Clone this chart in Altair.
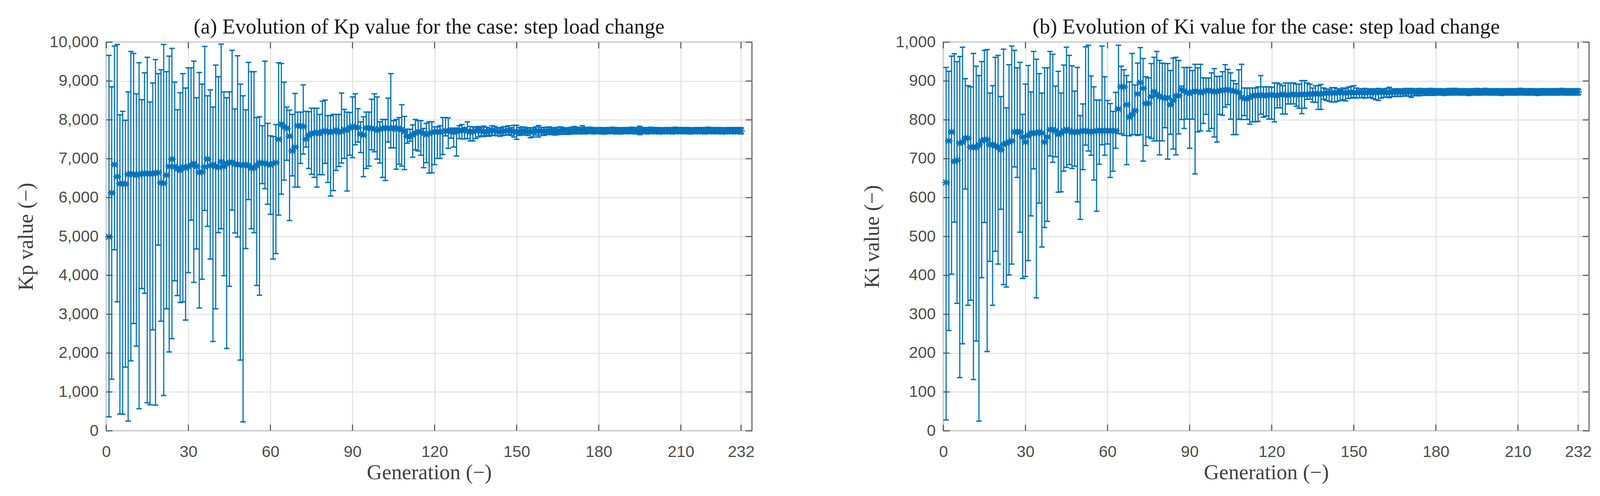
import altair as alt
import pandas as pd

generation = list(range(1, 233))

kp_mean = [
    4990, 6120, 6850, 6540, 6360, 6360, 6350, 6600, 6610, 6600,
    6580, 6600, 6610, 6620, 6620, 6610, 6620, 6630, 6640, 6380,
    6370, 6580, 6800, 6990, 6800, 6750, 6700, 6790, 6760, 6800,
    6830, 6880, 6800, 6650, 6660, 6790, 6990, 6820, 6850, 6800,
    6780, 6920, 6800, 6880, 6900, 6910, 6860, 6850, 6850, 6830,
    6850, 6830, 6760, 6760, 6830, 6900, 6880, 6890, 6860, 6840,
    6880, 6900, 7500, 7890, 7820, 7780, 7580, 7200, 7300, 7850,
    7840, 7830, 7500, 7600, 7650, 7660, 7680, 7650, 7700, 7720,
    7700, 7680, 7700, 7740, 7680, 7700, 7750, 7730, 7800, 7830,
    7810, 7800, 7640, 7610, 7790, 7800, 7780, 7770, 7730, 7760,
    7780, 7790, 7790, 7770, 7800, 7760, 7790, 7750, 7700, 7580,
    7560, 7620, 7660, 7700, 7690, 7650, 7620, 7650, 7680, 7690,
    7700, 7680, 7700, 7720, 7710, 7700, 7680, 7700, 7720, 7730,
    7730, 7710, 7690, 7700, 7720, 7740, 7710, 7700, 7690, 7710,
    7730, 7720, 7700, 7690, 7710, 7720, 7730, 7710, 7700, 7680,
    7700, 7720, 7710, 7700, 7690, 7700, 7710, 7720, 7710, 7700,
    7710, 7720, 7710, 7700, 7710, 7720, 7720, 7710, 7710, 7720,
    7730, 7720, 7720, 7730, 7720, 7720, 7730, 7720, 7720, 7720,
    7720, 7710, 7720, 7720, 7730, 7720, 7720, 7710, 7720, 7720,
    7720, 7730, 7720, 7720, 7710, 7720, 7720, 7720, 7730, 7720,
    7720, 7720, 7710, 7720, 7720, 7720, 7720, 7730, 7720, 7720,
    7720, 7720, 7720, 7710, 7720, 7720, 7720, 7720, 7720, 7730,
    7720, 7720, 7720, 7720, 7720, 7710, 7720, 7720, 7720, 7720,
    7720, 7720,
]

kp_upper = [
    9660, 8850, 9900, 9940, 8130, 8220, 7990, 8720, 9760, 9710,
    8670, 9470, 8520, 9210, 9610, 8460, 8950, 9550, 9190, 9290,
    9940, 9240, 9640, 9840, 8970, 8260, 8700, 9190, 8820, 9340,
    9340, 9510, 8570, 9220, 8920, 9890, 8620, 8770, 8330, 9410,
    9110, 9950, 8720, 8570, 8720, 9790, 8280, 9650, 8920, 8620,
    8260, 9480, 9240, 9240, 8060, 8080, 7850, 9510, 7910, 7590,
    7570, 7880, 9470, 9450, 8970, 8330, 8250, 8140, 8680, 8200,
    8200, 8900, 8220, 8210, 8300, 8300, 8300, 8140, 8480, 8510,
    8110, 8110, 8140, 8140, 8140, 8690, 8270, 8200, 8190, 8590,
    8670, 8290, 7950, 8080, 8200, 8200, 8530, 8670, 8590, 7950,
    8010, 8010, 8560, 9190, 7980, 8010, 8060, 8390, 8090, 7760,
    7760, 7870, 8010, 7980, 7980, 7780, 7910, 7950, 7950, 7820,
    7820, 7850, 8060, 8060, 8050, 7790, 7760, 7790, 7850, 7880,
    7800, 7950, 7830, 7820, 7810, 7830, 7800, 7840, 7810, 7790,
    7850, 7830, 7800, 7790, 7820, 7830, 7850, 7800, 7860, 7860,
    7800, 7820, 7810, 7790, 7800, 7790, 7820, 7855, 7810, 7800,
    7810, 7820, 7800, 7790, 7810, 7820, 7800, 7790, 7800, 7810,
    7830, 7810, 7800, 7850, 7810, 7800, 7810, 7800, 7790, 7800,
    7800, 7790, 7800, 7800, 7810, 7800, 7800, 7790, 7800, 7800,
    7800, 7810, 7800, 7800, 7835, 7800, 7800, 7800, 7810, 7800,
    7800, 7800, 7790, 7800, 7800, 7800, 7800, 7810, 7800, 7800,
    7800, 7800, 7800, 7790, 7800, 7800, 7800, 7800, 7800, 7810,
    7800, 7800, 7800, 7800, 7800, 7790, 7800, 7800, 7800, 7800,
    7800, 7800,
]

kp_lower = [
    360, 1330, 4660, 3320, 430, 430, 1640, 250, 1800, 2760,
    2180, 570, 3660, 3540, 720, 670, 2600, 660, 4780, 2820,
    910, 3140, 2030, 2370, 3860, 3480, 3300, 3320, 2850, 4070,
    5420, 3820, 4680, 3160, 3900, 5670, 5260, 4420, 2300, 3140,
    5100, 5200, 3990, 2120, 3720, 5680, 5090, 4990, 1820, 230,
    4690, 5950, 5200, 5100, 3740, 3490, 6360, 6230, 5830, 5570,
    4420, 4560, 5550, 6090, 6450, 6960, 5410, 6560, 6270, 6270,
    6880, 7120, 7300, 6750, 6600, 6520, 6270, 6590, 6590, 6880,
    6390, 6040, 6180, 6700, 6800, 6890, 7010, 6170, 7090, 7030,
    7360, 7430, 7160, 6540, 6750, 6810, 7230, 7180, 6990, 6890,
    6520, 6440, 7430, 7280, 7280, 6730, 6860, 6810, 6720, 7400,
    7450, 7040, 7230, 7200, 7090, 6770, 6900, 6630, 6640, 6850,
    7010, 7010, 7110, 7590, 7270, 7530, 7300, 7070, 7520, 7510,
    7510, 7520, 7460, 7460, 7520, 7560, 7590, 7570, 7600, 7580,
    7610, 7600, 7590, 7580, 7600, 7610, 7620, 7600, 7560, 7500,
    7600, 7630, 7610, 7600, 7540, 7560, 7610, 7560, 7610, 7600,
    7620, 7630, 7620, 7610, 7620, 7630, 7630, 7630, 7630, 7640,
    7640, 7640, 7650, 7640, 7640, 7650, 7650, 7640, 7650, 7650,
    7640, 7640, 7650, 7650, 7650, 7640, 7650, 7640, 7650, 7650,
    7650, 7650, 7640, 7650, 7620, 7650, 7650, 7640, 7650, 7650,
    7650, 7640, 7650, 7650, 7650, 7650, 7640, 7650, 7650, 7650,
    7650, 7650, 7640, 7650, 7650, 7650, 7650, 7650, 7640, 7650,
    7650, 7650, 7650, 7650, 7640, 7650, 7650, 7650, 7650, 7650,
    7650, 7640,
]

ki_mean = [
    639, 746, 769, 693, 696, 740, 743, 753, 753, 730,
    730, 729, 736, 746, 749, 749, 736, 736, 733, 730,
    723, 737, 740, 743, 746, 769, 769, 769, 756, 743,
    759, 766, 766, 766, 769, 766, 743, 756, 775, 775,
    772, 763, 766, 772, 775, 772, 768, 770, 768, 770,
    772, 772, 770, 770, 770, 772, 772, 772, 772, 772,
    772, 772, 772, 828, 885, 885, 839, 807, 814, 824,
    867, 896, 881, 842, 843, 860, 873, 865, 860, 858,
    855, 857, 839, 850, 862, 862, 878, 875, 870, 868,
    872, 874, 873, 870, 872, 875, 876, 874, 872, 873,
    875, 876, 877, 878, 876, 874, 873, 870, 858, 855,
    854, 858, 862, 863, 862, 864, 863, 862, 864, 865,
    863, 862, 864, 866, 864, 863, 865, 866, 864, 865,
    866, 865, 866, 867, 866, 868, 867, 866, 868, 869,
    869, 870, 869, 870, 871, 870, 869, 870, 871, 870,
    870, 871, 870, 870, 871, 870, 871, 870, 871, 871,
    871, 870, 871, 871, 871, 872, 871, 871, 872, 871,
    872, 872, 871, 872, 872, 872, 872, 872, 872, 872,
    872, 872, 871, 872, 872, 872, 873, 872, 872, 872,
    872, 871, 872, 872, 872, 872, 872, 873, 872, 872,
    872, 872, 872, 871, 872, 872, 872, 872, 872, 872,
    873, 872, 872, 872, 872, 872, 871, 872, 872, 872,
    872, 872, 872, 872, 872, 873, 872, 872, 872, 872,
    872, 872,
]

ki_upper = [
    935, 925, 964, 970, 950, 963, 987, 906, 888, 885,
    971, 938, 914, 950, 979, 981, 869, 888, 961, 966,
    860, 982, 831, 942, 990, 979, 934, 948, 814, 892,
    940, 872, 976, 956, 919, 869, 934, 934, 976, 969,
    887, 925, 869, 941, 987, 966, 939, 874, 935, 811,
    841, 988, 992, 913, 885, 851, 851, 990, 911, 850,
    842, 822, 871, 992, 938, 929, 914, 898, 971, 890,
    946, 986, 958, 911, 908, 945, 961, 976, 953, 946,
    945, 945, 927, 959, 961, 953, 887, 935, 935, 935,
    927, 943, 934, 943, 908, 908, 908, 921, 932, 912,
    912, 924, 942, 930, 921, 901, 893, 929, 943, 882,
    882, 882, 882, 882, 885, 914, 885, 885, 885, 884,
    895, 895, 892, 888, 895, 895, 895, 895, 892, 892,
    901, 901, 895, 892, 882, 888, 888, 891, 882, 879,
    879, 883, 883, 880, 878, 882, 880, 884, 886, 888,
    882, 880, 879, 881, 880, 878, 880, 879, 881, 880,
    879, 881, 884, 880, 879, 880, 879, 880, 881, 880,
    881, 880, 880, 881, 880, 880, 880, 881, 880, 880,
    880, 880, 879, 880, 881, 880, 881, 880, 880, 880,
    880, 879, 880, 880, 881, 880, 880, 881, 880, 880,
    880, 880, 880, 879, 880, 880, 880, 880, 880, 880,
    881, 880, 880, 880, 880, 880, 879, 880, 880, 880,
    880, 880, 880, 880, 880, 881, 880, 880, 880, 880,
    880, 880,
]

ki_lower = [
    28, 258, 403, 537, 328, 137, 224, 622, 323, 336,
    132, 231, 25, 394, 536, 204, 436, 323, 462, 429,
    570, 376, 370, 401, 429, 679, 652, 511, 392, 397,
    438, 553, 674, 342, 586, 473, 523, 539, 707, 691,
    705, 614, 615, 668, 678, 685, 675, 681, 589, 544,
    672, 735, 720, 709, 645, 565, 686, 736, 709, 738,
    652, 668, 727, 765, 764, 760, 685, 759, 762, 762,
    760, 762, 694, 734, 756, 752, 746, 746, 710, 746,
    780, 699, 763, 725, 710, 764, 801, 778, 802, 727,
    802, 661, 769, 772, 791, 814, 771, 778, 756, 743,
    814, 812, 833, 839, 802, 762, 762, 802, 801, 811,
    801, 789, 795, 795, 796, 815, 807, 810, 802, 802,
    795, 831, 831, 815, 815, 841, 841, 841, 835, 830,
    816, 830, 853, 853, 846, 845, 827, 827, 853, 850,
    848, 846, 846, 848, 850, 852, 849, 855, 856, 858,
    856, 857, 858, 856, 857, 858, 855, 852, 850, 856,
    858, 859, 857, 860, 860, 861, 860, 861, 862, 861,
    858, 862, 863, 862, 863, 863, 864, 863, 863, 864,
    864, 864, 863, 864, 864, 864, 865, 864, 864, 864,
    864, 863, 864, 864, 864, 864, 864, 865, 864, 864,
    864, 864, 864, 863, 864, 864, 864, 864, 864, 864,
    865, 864, 864, 864, 864, 864, 863, 864, 864, 864,
    864, 864, 864, 864, 864, 865, 864, 864, 864, 864,
    864, 864,
]

x_ticks = [0, 30, 60, 90, 120, 150, 180, 210, 232]
kp_ticks = [0, 1000, 2000, 3000, 4000, 5000, 6000, 7000, 8000, 9000, 10000]
ki_ticks = [0, 100, 200, 300, 400, 500, 600, 700, 800, 900, 1000]

W, H = 1653, 996
BLUE = "#0072BD"
AX = "#4d4d4d"
TICK = 16
STAR = "M0,-1L0,1M-1,0L1,0M-0.72,-0.72L0.72,0.72M-0.72,0.72L0.72,-0.72"


def panel(mean, lo, hi, yticks, ymax, ytitle, title):
    df = pd.DataFrame({"gen": generation, "mean": mean, "lo": lo, "hi": hi})
    xs = alt.Scale(domain=[0, 236], nice=False, zero=False)
    ys = alt.Scale(domain=[0, ymax], nice=False)
    xaxis = alt.Axis(values=x_ticks, title="Generation (−)", grid=True,
                     ticks=False, domain=False, labelPadding=34, titlePadding=6,
                     labelFlush=False)
    yaxis = alt.Axis(values=yticks, format=",d", title=ytitle, grid=True,
                     ticks=False, domain=False, labelPadding=20, titlePadding=32)

    def X(f):
        return alt.X(f, type="quantitative", scale=xs, axis=xaxis)

    def Y(f):
        return alt.Y(f, type="quantitative", scale=ys, axis=yaxis)

    base = alt.Chart(df)
    bars = base.mark_rule(color=BLUE, strokeWidth=3).encode(
        x=X("gen"), y=Y("lo"), y2="hi:Q")
    cap_lo = base.mark_tick(orient="horizontal", color=BLUE, size=14,
                            thickness=3.5, opacity=1).encode(x=X("gen"), y=Y("lo"))
    cap_hi = base.mark_tick(orient="horizontal", color=BLUE, size=14,
                            thickness=3.5, opacity=1).encode(x=X("gen"), y=Y("hi"))
    stars = base.mark_point(shape=STAR, size=400, filled=False, strokeWidth=3.2,
                            color=BLUE, opacity=1).encode(x=X("gen"), y=Y("mean"))
    xt = alt.Chart(pd.DataFrame({"t": x_ticks}))
    yt = alt.Chart(pd.DataFrame({"t": yticks}))
    bottom_ticks = xt.mark_rule(color=AX, strokeWidth=2.5).encode(
        x=X("t"), y=alt.value(H - TICK), y2=alt.value(H))
    top_ticks = xt.mark_rule(color=AX, strokeWidth=2.5).encode(
        x=X("t"), y=alt.value(0), y2=alt.value(TICK))
    left_ticks = yt.mark_rule(color=AX, strokeWidth=2.5).encode(
        y=Y("t"), x=alt.value(0), x2=alt.value(TICK))
    right_ticks = yt.mark_rule(color=AX, strokeWidth=2.5).encode(
        y=Y("t"), x=alt.value(W - TICK), x2=alt.value(W))
    return alt.layer(
        bars, cap_lo, cap_hi, stars, bottom_ticks, top_ticks, left_ticks, right_ticks
    ).properties(
        width=W, height=H,
        title=alt.TitleParams(title, anchor="middle", baseline="alphabetic", offset=-53),
    )


left = panel(kp_mean, kp_lower, kp_upper, kp_ticks, 10000, "Kp value (−)",
             "(a) Evolution of Kp value for the case: step load change")
right = panel(ki_mean, ki_lower, ki_upper, ki_ticks, 1000, "Ki value (−)",
              "(b) Evolution of Ki value for the case: step load change")

chart = alt.hconcat(left, right, spacing=272).properties(
    padding={"left": 31, "top": 33, "right": 5, "bottom": 5}
).configure_view(
    stroke=AX, strokeWidth=2.5
).configure_axis(
    labelFont="Liberation Sans", labelFontSize=41, labelColor=AX,
    titleFont="Liberation Serif", titleFontSize=54, titleFontWeight="normal",
    titleColor="#404040", gridColor="#e0e0e0", gridWidth=2.5, gridOpacity=1,
).configure_title(
    font="Liberation Serif", fontSize=54, fontWeight="normal", color="#1a1a1a",
)

chart.save("out.html", embed_options={"renderer": "svg", "actions": False})
